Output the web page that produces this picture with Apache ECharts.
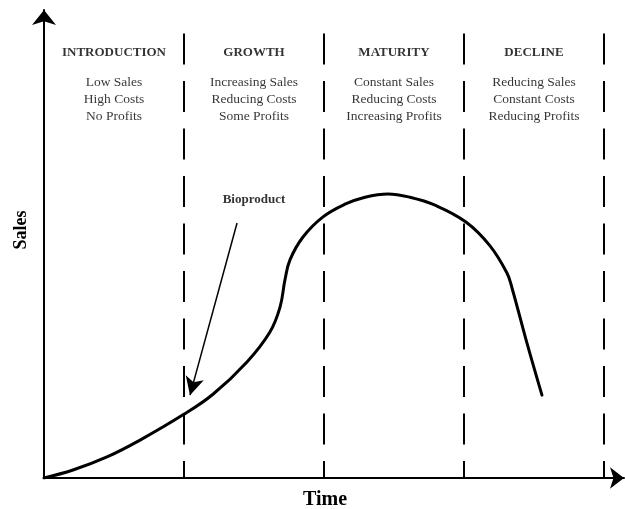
<!DOCTYPE html>
<html>
<head>
<meta charset="utf-8">
<script src="https://cdn.jsdelivr.net/npm/echarts@6/dist/echarts.min.js"></script>
<style>
  html, body { margin: 0; padding: 0; background: #fff; }
  #main { width: 625px; height: 509px; }
</style>
</head>
<body>
<div id="main"></div>
<script>
// product life cycle, x = time in phase units, y = sales (0..100)
var phaseNames = ['INTRODUCTION', 'GROWTH', 'MATURITY', 'DECLINE'];
var phaseNotes = [
    ['Low Sales', 'High Costs', 'No Profits'],
    ['Increasing Sales', 'Reducing Costs', 'Some Profits'],
    ['Constant Sales', 'Reducing Costs', 'Increasing Profits'],
    ['Reducing Sales', 'Constant Costs', 'Reducing Profits']
];
var phaseCenters = [0.5, 1.5, 2.5, 3.5];
var phaseEdges = [1, 2, 3, 4];
var dividerTop = 95;
var titleY = 90.8;
var notesY = 80.8;

var curveTime = [0, 0.207, 0.45, 0.686, 0.993, 1.207, 1.45, 1.614, 1.686, 1.721, 1.757, 1.85, 1.993, 2.15, 2.293, 2.457, 2.614, 2.793, 3.014, 3.186, 3.307, 3.343, 3.45, 3.557];
var curveSales = [0, 1.7, 4.5, 8.1, 13.5, 17.9, 24.8, 31.2, 36.5, 42.3, 46.6, 51.5, 55.8, 58.5, 60.0, 60.7, 60.0, 58.3, 54.7, 49.6, 43.8, 40.6, 28.8, 17.7];

var arrowLabel = 'Bioproduct';
var arrowLabelAt = [1.5, 59.4];
var arrowFrom = [1.379, 54.5];
var arrowTo = [1.043, 17.7];

var serif = '"Liberation Serif", "Times New Roman", serif';

var curveData = [];
for (var i = 0; i < curveTime.length; i++) {
    curveData.push([curveTime[i], curveSales[i]]);
}

var dividers = [];
for (var i = 0; i < phaseEdges.length; i++) {
    dividers.push([{coord: [phaseEdges[i], dividerTop]}, {coord: [phaseEdges[i], 0]}]);
}

var textData = [];
for (var i = 0; i < phaseNames.length; i++) {
    textData.push({
        value: [phaseCenters[i], titleY],
        label: {formatter: phaseNames[i], fontWeight: 'bold', fontSize: 13, color: '#000'}
    });
    textData.push({
        value: [phaseCenters[i], notesY],
        label: {formatter: phaseNotes[i].join('\n'), fontSize: 13.5, lineHeight: 17, color: '#000'}
    });
}
textData.push({
    value: arrowLabelAt,
    label: {formatter: arrowLabel, fontWeight: 'bold', fontSize: 13, color: '#000'}
});

var myChart = echarts.init(document.getElementById('main'));
myChart.setOption({
    animation: false,
    backgroundColor: '#fff',
    grid: {left: 44, right: 1, top: 10, bottom: 31, outerBoundsMode: 'none'},
    xAxis: {
        type: 'value',
        min: 0,
        max: 4.143,
        name: 'Time',
        nameLocation: 'middle',
        nameGap: 12,
        nameTextStyle: {fontFamily: serif, fontWeight: 'bold', fontSize: 20, color: '#000', verticalAlign: 'top', padding: [0, 18, 0, 0]},
        axisLine: {lineStyle: {color: '#000', width: 2}, symbol: ['none', 'arrow'], symbolSize: [16, 14]},
        axisTick: {show: false},
        axisLabel: {show: false},
        splitLine: {show: false}
    },
    yAxis: {
        type: 'value',
        min: 0,
        max: 100,
        name: 'Sales',
        nameLocation: 'middle',
        nameGap: 14,
        nameRotate: 90,
        nameTextStyle: {fontFamily: serif, fontWeight: 'bold', fontSize: 18, color: '#000', padding: [0, 0, 0, 28]},
        axisLine: {lineStyle: {color: '#000', width: 2}, symbol: ['none', 'arrow'], symbolSize: [18, 15]},
        axisTick: {show: false},
        axisLabel: {show: false},
        splitLine: {show: false}
    },
    series: [{
        type: 'line',
        data: curveData,
        smooth: 0.4,
        showSymbol: false,
        silent: true,
        lineStyle: {color: '#000', width: 3, cap: 'round'},
        markLine: {
            silent: true,
            symbol: 'none',
            label: {show: false},
            lineStyle: {color: '#000', width: 2, type: [31, 16.5]},
            data: dividers
        }
    }, {
        type: 'line',
        data: [],
        silent: true,
        markLine: {
            silent: true,
            symbol: ['none', 'arrow'],
            symbolSize: [14, 18],
            label: {show: false},
            lineStyle: {color: '#000', width: 1.5, type: 'solid'},
            data: [[{coord: arrowFrom}, {coord: arrowTo}]]
        }
    }, {
        type: 'scatter',
        symbolSize: 0,
        silent: true,
        clip: false,
        label: {
            show: true,
            position: 'inside',
            color: '#000',
            textBorderWidth: 0,
            fontFamily: serif,
            align: 'center',
            verticalAlign: 'middle'
        },
        data: textData
    }]
});
</script>
</body>
</html>
